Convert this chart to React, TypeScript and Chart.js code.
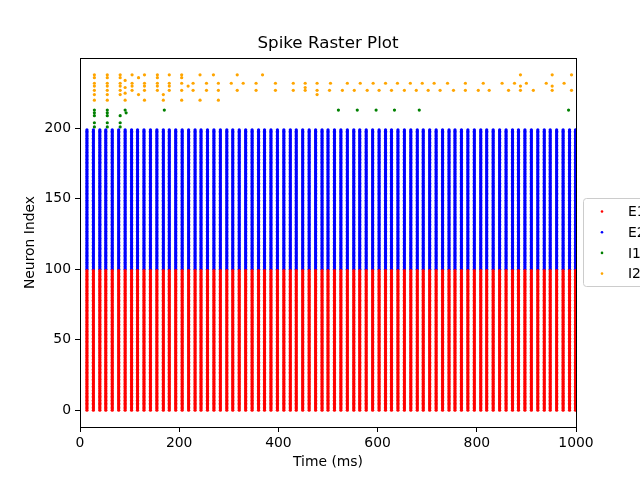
import React, { useEffect, useRef } from 'react';
import { Chart, registerables, Plugin } from 'chart.js';

Chart.register(...registerables);

// population spike columns (ms)
const eSpikeTimes = [
  14, 27, 40, 52, 65, 78, 91, 104, 116, 129, 142, 155, 168, 180, 193, 206, 219, 232, 244, 257,
  270, 283, 296, 308, 321, 334, 347, 360, 372, 385, 398, 411, 424, 436, 449, 462, 475, 488, 500, 513,
  526, 539, 552, 564, 577, 590, 603, 616, 628, 641, 654, 667, 680, 692, 705, 718, 731, 744, 756, 769,
  782, 795, 808, 820, 833, 846, 859, 872, 884, 897, 910, 923, 936, 948, 961, 974, 987, 999,
];
const e1Neurons = [0, 99]; // first and last index
const e2Neurons = [100, 199];

const i1Times = [29, 29, 29, 29, 29, 55, 55, 55, 55, 55, 81, 81, 81, 91, 93, 170, 521, 559, 597, 634, 684, 985];
const i1Neurons = [213, 211, 209, 204, 201, 213, 211, 209, 204, 201, 209, 204, 201, 213, 211, 213, 213, 213, 213, 213, 213, 213];

const i2Times = [
  29, 29, 29, 29, 29, 29, 29,
  55, 55, 55, 55, 55, 55, 55,
  81, 81, 81, 81, 81, 81,
  91, 91, 91, 91,
  105, 105, 105, 105,
  118, 118,
  130, 130, 130, 130, 130,
  156, 156, 156, 156, 156,
  168, 168,
  180, 180, 180, 180,
  205, 205, 205, 205, 205,
  218, 228, 228, 242, 242, 255, 255, 269, 279, 279, 279,
  305, 317, 317, 329, 355, 355, 368, 394, 394, 430, 430, 454, 454, 454, 478, 478, 478,
  503, 505, 529, 539, 553, 565, 579, 591, 603, 616, 628, 640, 654, 666, 678, 690, 702, 714, 726, 741,
  753, 777, 777, 803, 813, 825, 851, 864, 876, 888, 888, 888, 900, 914, 940, 952, 952, 952, 976, 991, 991,
];
const i2Neurons = [
  238, 236, 232, 230, 227, 224, 220,
  238, 236, 232, 230, 227, 224, 220,
  238, 236, 232, 230, 227, 224,
  234, 229, 225, 220,
  238, 232, 230, 227,
  236, 224,
  238, 232, 230, 227, 220,
  238, 236, 232, 230, 227,
  224, 220,
  238, 232, 230, 227,
  238, 236, 232, 227, 220,
  230, 232, 227, 238, 220, 232, 227, 238, 232, 227, 220,
  232, 238, 227, 232, 232, 227, 238, 232, 227, 232, 227, 232, 229, 227, 232, 227, 224,
  227, 232, 227, 232, 227, 232, 227, 232, 227, 232, 227, 232, 227, 232, 227, 232, 227, 232, 227, 232,
  227, 232, 227, 227, 232, 227, 232, 227, 232, 238, 230, 227, 232, 227, 232, 238, 230, 227, 232, 238, 227,
];

const groupLabels = ['E1', 'E2', 'I1', 'I2'];
const groupColors = ['#ff0000', '#0000ff', '#008000', '#ffa500'];
const xTicks = [0, 200, 400, 600, 800, 1000];
const yTicks = [0, 50, 100, 150, 200];

const FONT = "'DejaVu Sans', sans-serif";

function rasterPoints(range: number[], times: number[]) {
  const pts: { x: number; y: number }[] = [];
  for (let n = range[0]; n <= range[1]; n++) {
    for (const t of times) pts.push({ x: t, y: n });
  }
  return pts;
}

function pairPoints(times: number[], neurons: number[]) {
  return times.map((t, i) => ({ x: t, y: neurons[i] }));
}

// spines on all four sides + the legend box outside the axes
const framePlugin: Plugin = {
  id: 'frame',
  afterDraw(chart) {
    const { ctx, chartArea: a } = chart;
    ctx.save();
    ctx.strokeStyle = '#000';
    ctx.lineWidth = 1;
    ctx.strokeRect(Math.round(a.left) + 0.5, Math.round(a.top) + 0.5, Math.round(a.right - a.left), Math.round(a.bottom - a.top));

    const bx = 583.5, by = 198.5, bw = 80, bh = 88, r = 3;
    ctx.beginPath();
    ctx.moveTo(bx + r, by);
    ctx.lineTo(bx + bw - r, by);
    ctx.arcTo(bx + bw, by, bx + bw, by + r, r);
    ctx.lineTo(bx + bw, by + bh - r);
    ctx.arcTo(bx + bw, by + bh, bx + bw - r, by + bh, r);
    ctx.lineTo(bx + r, by + bh);
    ctx.arcTo(bx, by + bh, bx, by + bh - r, r);
    ctx.lineTo(bx, by + r);
    ctx.arcTo(bx, by, bx + r, by, r);
    ctx.closePath();
    ctx.fillStyle = 'rgba(255,255,255,0.8)';
    ctx.fill();
    ctx.strokeStyle = '#cccccc';
    ctx.stroke();

    ctx.font = `13.9px ${FONT}`;
    ctx.textBaseline = 'middle';
    ctx.textAlign = 'left';
    groupLabels.forEach((label, i) => {
      const y = 211.5 + i * 20.7;
      ctx.fillStyle = groupColors[i];
      ctx.beginPath();
      ctx.arc(602, y, 1.3, 0, Math.PI * 2);
      ctx.fill();
      ctx.fillStyle = '#000';
      ctx.fillText(label, 628, y + 1);
    });
    ctx.restore();
  },
};

const App: React.FC = () => {
  const chartRef = useRef<HTMLCanvasElement>(null);

  useEffect(() => {
    const ctx = chartRef.current!.getContext('2d')!;
    const series = [
      rasterPoints(e1Neurons, eSpikeTimes),
      rasterPoints(e2Neurons, eSpikeTimes),
      pairPoints(i1Times, i1Neurons),
      pairPoints(i2Times, i2Neurons),
    ];

    const chart = new Chart(ctx, {
      type: 'scatter',
      data: {
        datasets: series.map((data, i) => ({
          label: groupLabels[i],
          data,
          backgroundColor: groupColors[i],
          borderWidth: 0,
          pointRadius: 1.6,
          pointHoverRadius: 1.6,
        })),
      },
      options: {
        animation: false,
        responsive: false,
        devicePixelRatio: 1,
        parsing: false,
        normalized: true,
        events: [],
        layout: { padding: { left: 0, right: 64, top: 0, bottom: 0 } },
        plugins: {
          legend: { display: false },
          tooltip: { enabled: false },
          title: {
            display: true,
            text: 'Spike Raster Plot',
            fullSize: false,
            color: '#000',
            font: { family: FONT, size: 16.7, weight: 'normal' },
            padding: { top: 34, bottom: 4 },
          },
        },
        scales: {
          x: {
            type: 'linear',
            min: 0,
            max: 1000,
            afterFit: (s) => { s.height = 53; },
            afterBuildTicks: (s) => { s.ticks = xTicks.map((v) => ({ value: v })); },
            border: { display: false },
            grid: { drawOnChartArea: false, drawTicks: true, tickLength: 5, color: '#000' },
            ticks: {
              color: '#000',
              padding: 3,
              maxRotation: 0,
              font: { family: FONT, size: 13.9 },
              callback: (v) => String(v),
            },
            title: {
              display: true,
              text: 'Time (ms)',
              color: '#000',
              font: { family: FONT, size: 13.9 },
              padding: { top: 0, bottom: 9 },
            },
          },
          y: {
            type: 'linear',
            min: -11.9,
            max: 249.9,
            afterFit: (s) => { s.width = 80; },
            afterBuildTicks: (s) => { s.ticks = yTicks.map((v) => ({ value: v })); },
            border: { display: false },
            grid: { drawOnChartArea: false, drawTicks: true, tickLength: 5, color: '#000' },
            ticks: { color: '#000', padding: 4, font: { family: FONT, size: 13.9 }, callback: (v) => String(v) },
            title: {
              display: true,
              text: 'Neuron Index',
              color: '#000',
              font: { family: FONT, size: 13.9 },
              padding: { top: 22, bottom: 0 },
            },
          },
        },
      },
      plugins: [framePlugin],
    });

    return () => {
      chart.destroy();
    };
  }, []);

  return (
    <div style={{ position: 'absolute', left: 0, top: 0, width: 640, height: 480, background: '#fff' }}>
      <canvas ref={chartRef} width={640} height={480} />
    </div>
  );
};

export default App;
